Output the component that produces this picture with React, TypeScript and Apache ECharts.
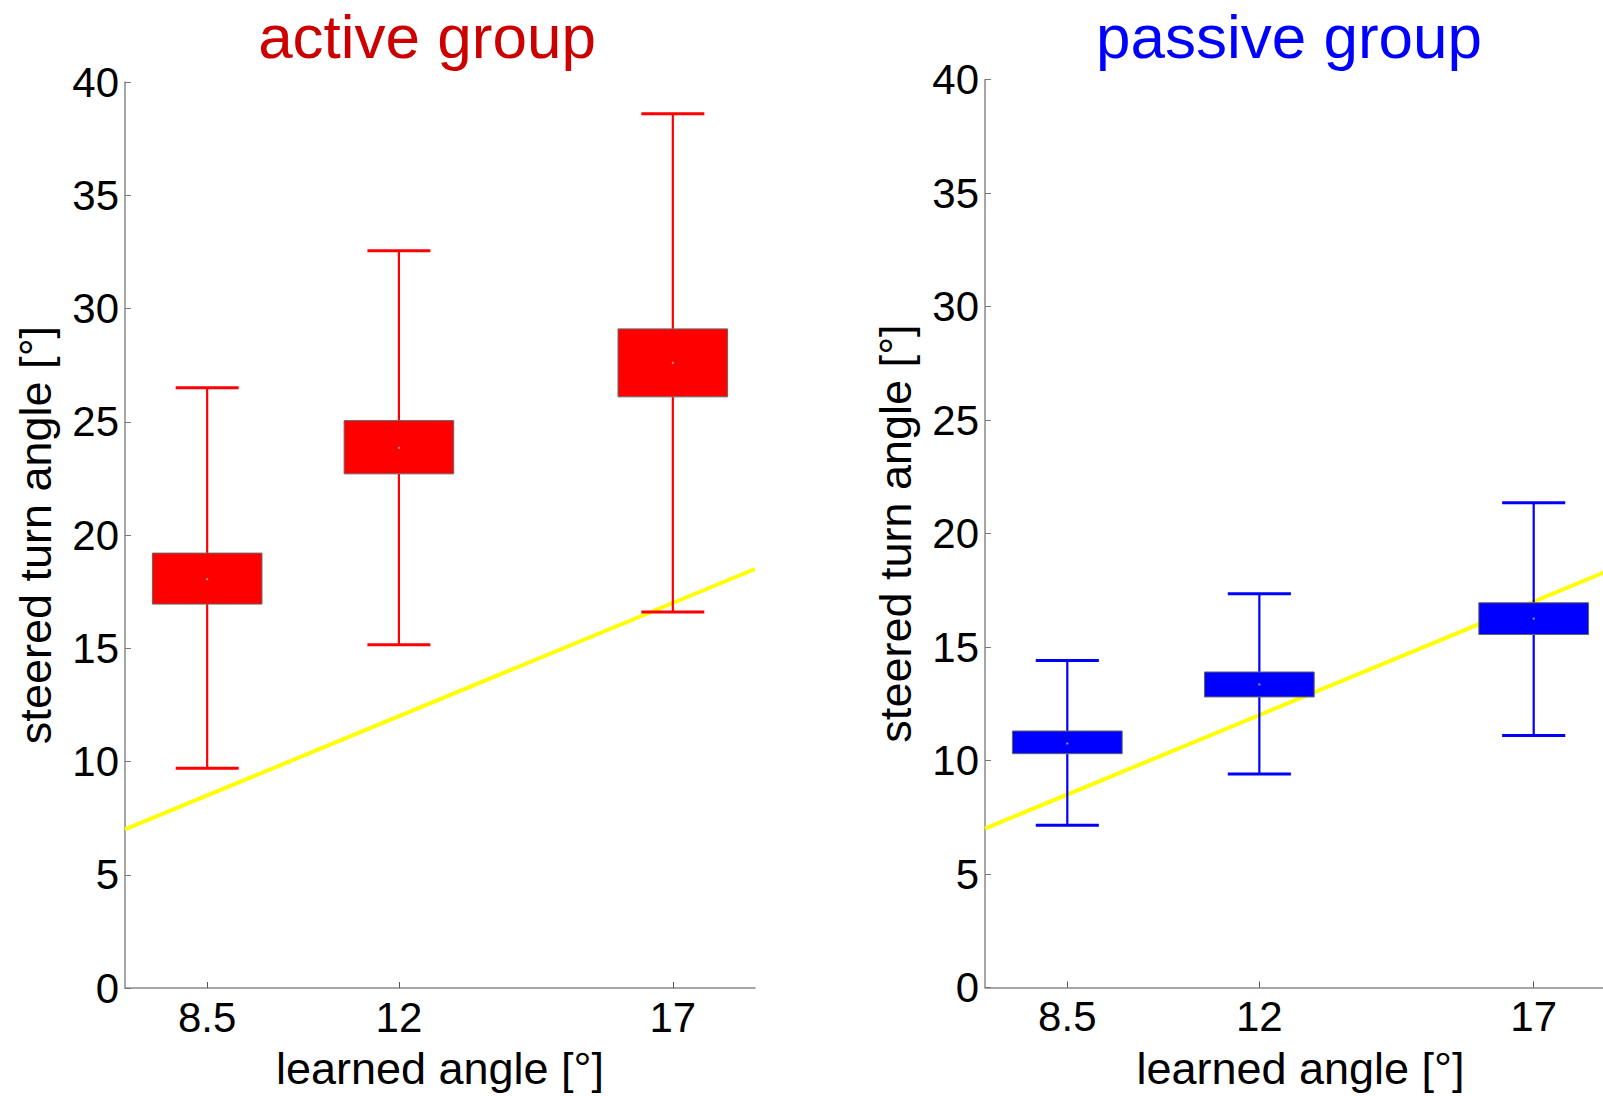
import React, { useEffect, useRef } from "react";
import * as echarts from "echarts";

// ---- data ----
const learnedAngles = [8.5, 12, 17];
const xTickLabels = ["8.5", "12", "17"];
const yTicks = [0, 5, 10, 15, 20, 25, 30, 35, 40];

const activeLower = [9.7, 15.15, 16.6];
const activeQ1 = [16.95, 22.7, 26.1];
const activeMedian = [18.05, 23.85, 27.6];
const activeQ3 = [19.2, 25.05, 29.1];
const activeUpper = [26.5, 32.55, 38.6];

const passiveLower = [7.15, 9.4, 11.1];
const passiveQ1 = [10.3, 12.8, 15.55];
const passiveMedian = [10.75, 13.35, 16.25];
const passiveQ3 = [11.3, 13.9, 16.95];
const passiveUpper = [14.4, 17.35, 21.35];

const referenceX = [7, 18.5];
const referenceY = [7, 18.5];

const titles = ["active group", "passive group"];
const xName = "learned angle [°]";
const yName = "steered turn angle [°]";

const FONT = "Liberation Sans, Arial, Helvetica, sans-serif";

function boxData(lo: number[], q1: number[], med: number[], q3: number[], hi: number[]) {
  return learnedAngles.map((x, i) => [x, lo[i], q1[i], med[i], q3[i], hi[i]]);
}

function makeRender(color: string) {
  return (params: any, api: any) => {
    const x = api.value(0);
    const pLo = api.coord([x, api.value(1)]);
    const pQ1 = api.coord([x, api.value(2)]);
    const pMed = api.coord([x, api.value(3)]);
    const pQ3 = api.coord([x, api.value(4)]);
    const pHi = api.coord([x, api.value(5)]);
    const halfBox = api.size([1, 0])[0];
    const halfCap = api.size([0.575, 0])[0];
    const cx = pLo[0];
    return {
      type: "group",
      children: [
        { type: "line", shape: { x1: cx, y1: pLo[1], x2: cx, y2: pQ1[1] }, style: { stroke: color, lineWidth: 2.2 } },
        { type: "line", shape: { x1: cx, y1: pQ3[1], x2: cx, y2: pHi[1] }, style: { stroke: color, lineWidth: 2.2 } },
        { type: "line", shape: { x1: cx - halfCap, y1: pLo[1], x2: cx + halfCap, y2: pLo[1] }, style: { stroke: color, lineWidth: 3 } },
        { type: "line", shape: { x1: cx - halfCap, y1: pHi[1], x2: cx + halfCap, y2: pHi[1] }, style: { stroke: color, lineWidth: 3 } },
        {
          type: "rect",
          shape: { x: cx - halfBox, y: pQ3[1], width: 2 * halfBox, height: pQ1[1] - pQ3[1] },
          style: { fill: color, stroke: "#666666", lineWidth: 1 },
        },
        {
          type: "rect",
          shape: { x: cx - 1, y: pMed[1] - 1, width: 2, height: 2 },
          style: { fill: "#999999" },
        },
      ],
    };
  };
}

function xAxisFor(gridIndex: number) {
  return {
    type: "value",
    gridIndex,
    min: 7,
    max: 18.5,
    name: xName,
    nameLocation: "middle",
    nameGap: 58,
    nameTextStyle: { fontSize: 45, color: "#000", fontFamily: FONT },
    axisLine: { show: true, lineStyle: { color: "#8a8a8a", width: 1.5 } },
    axisTick: { show: true, inside: true, length: 6, customValues: learnedAngles, lineStyle: { color: "#555" } },
    axisLabel: {
      show: true,
      customValues: learnedAngles,
      formatter: (v: number) => xTickLabels[learnedAngles.indexOf(v)] ?? String(v),
      fontSize: 42,
      color: "#000",
      fontFamily: FONT,
      margin: 8,
    },
    splitLine: { show: false },
  };
}

function yAxisFor(gridIndex: number) {
  return {
    type: "value",
    gridIndex,
    min: 0,
    max: 40,
    interval: 5,
    name: yName,
    nameLocation: "middle",
    nameGap: 67,
    nameTextStyle: { fontSize: 45, color: "#000", fontFamily: FONT },
    axisLine: { show: true, lineStyle: { color: "#8a8a8a", width: 1.5 } },
    axisTick: { show: true, inside: true, length: 6, lineStyle: { color: "#777" } },
    axisLabel: {
      show: true,
      fontSize: 42,
      color: "#000",
      fontFamily: FONT,
      margin: 6,
      formatter: (v: number) => (yTicks.includes(v) ? String(v) : ""),
    },
    splitLine: { show: false },
  };
}

export default function App() {
  const ref = useRef<HTMLDivElement>(null);
  useEffect(() => {
    document.body.style.margin = "0";
    document.body.style.overflow = "hidden";
    if (!ref.current) return;
    const chart = echarts.init(ref.current, null, { renderer: "svg" });
    const refLine = referenceX.map((x, i) => [x, referenceY[i]]);
    chart.setOption({
      animation: false,
      backgroundColor: "#ffffff",
      grid: [
        { left: 125, top: 82, width: 630, height: 908 },
        { left: 985, top: 79.5, width: 631, height: 908 },
      ],
      xAxis: [xAxisFor(0), xAxisFor(1)],
      yAxis: [yAxisFor(0), yAxisFor(1)],
      graphic: [
        {
          type: "text",
          x: 427,
          y: 36,
          style: { text: titles[0], fontSize: 62, fill: "#cc0000", fontFamily: FONT, textAlign: "center", textVerticalAlign: "middle" },
        },
        {
          type: "text",
          x: 1289,
          y: 36,
          style: { text: titles[1], fontSize: 62, fill: "#0000ff", fontFamily: FONT, textAlign: "center", textVerticalAlign: "middle" },
        },
      ],
      series: [
        {
          type: "line",
          xAxisIndex: 0,
          yAxisIndex: 0,
          data: refLine,
          symbol: "none",
          lineStyle: { color: "#ffff00", width: 4 },
          z: 1,
        },
        {
          type: "line",
          xAxisIndex: 1,
          yAxisIndex: 1,
          data: refLine,
          symbol: "none",
          lineStyle: { color: "#ffff00", width: 4 },
          z: 1,
        },
        {
          type: "custom",
          xAxisIndex: 0,
          yAxisIndex: 0,
          data: boxData(activeLower, activeQ1, activeMedian, activeQ3, activeUpper),
          renderItem: makeRender("#ff0000"),
          encode: { x: 0, y: [1, 2, 3, 4, 5] },
          z: 2,
        },
        {
          type: "custom",
          xAxisIndex: 1,
          yAxisIndex: 1,
          data: boxData(passiveLower, passiveQ1, passiveMedian, passiveQ3, passiveUpper),
          renderItem: makeRender("#0000ff"),
          encode: { x: 0, y: [1, 2, 3, 4, 5] },
          z: 2,
        },
      ],
    });
    return () => chart.dispose();
  }, []);
  return <div ref={ref} style={{ width: 1620, height: 1096 }} />;
}
